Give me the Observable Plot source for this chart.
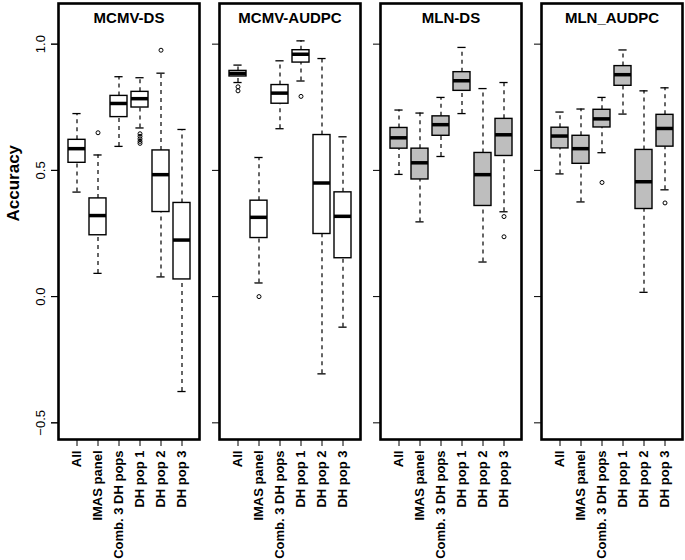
<!DOCTYPE html>
<html>
<head>
<meta charset="utf-8">
<script src="https://cdn.jsdelivr.net/npm/d3@7"></script>
<script src="https://cdn.jsdelivr.net/npm/@observablehq/plot@0.6"></script>
<style>
  html, body { margin: 0; padding: 0; background: #fff; }
  #chart svg { display: block; font-family: "Liberation Sans", Arial, Helvetica, sans-serif; }
</style>
</head>
<body>
<div id="chart"></div>
<script>
const traits = ["MCMV-DS", "MCMV-AUDPC", "MLN-DS", "MLN_AUDPC"];
const groups = ["All", "IMAS panel", "Comb. 3 DH pops", "DH pop 1", "DH pop 2", "DH pop 3"];
const yTicks = [-0.5, 0.0, 0.5, 1.0];

// per trait (rows) and group (columns)
const whiskerLow = [
  [0.414, 0.092, 0.595, 0.668, 0.078, -0.376],
  [0.848, 0.054, 0.665, 0.854, -0.306, -0.121],
  [0.484, 0.296, 0.555, 0.725, 0.137, 0.336],
  [0.486, 0.375, 0.570, 0.723, 0.017, 0.423]
];
const q1 = [
  [0.530, 0.243, 0.711, 0.749, 0.335, 0.068],
  [0.872, 0.232, 0.764, 0.927, 0.248, 0.152],
  [0.586, 0.464, 0.637, 0.815, 0.359, 0.557],
  [0.587, 0.526, 0.670, 0.835, 0.347, 0.594]
];
const median = [
  [0.586, 0.321, 0.765, 0.784, 0.483, 0.224],
  [0.884, 0.314, 0.806, 0.960, 0.450, 0.318],
  [0.629, 0.530, 0.681, 0.855, 0.483, 0.641],
  [0.636, 0.586, 0.704, 0.879, 0.455, 0.666]
];
const q3 = [
  [0.621, 0.389, 0.795, 0.811, 0.579, 0.371],
  [0.894, 0.380, 0.838, 0.976, 0.640, 0.413],
  [0.668, 0.586, 0.714, 0.889, 0.569, 0.704],
  [0.669, 0.637, 0.740, 0.913, 0.581, 0.720]
];
const whiskerHigh = [
  [0.725, 0.561, 0.871, 0.867, 0.885, 0.662],
  [0.917, 0.551, 0.934, 1.013, 0.943, 0.633],
  [0.739, 0.727, 0.789, 0.987, 0.824, 0.848],
  [0.731, 0.743, 0.789, 0.977, 0.815, 0.827]
];
const outliers = [
  ["MCMV-DS", "IMAS panel", 0.649],
  ["MCMV-DS", "DH pop 1", 0.645],
  ["MCMV-DS", "DH pop 1", 0.635],
  ["MCMV-DS", "DH pop 1", 0.625],
  ["MCMV-DS", "DH pop 1", 0.615],
  ["MCMV-DS", "DH pop 1", 0.607],
  ["MCMV-DS", "DH pop 2", 0.976],
  ["MCMV-AUDPC", "All", 0.831],
  ["MCMV-AUDPC", "All", 0.815],
  ["MCMV-AUDPC", "IMAS panel", 0.0],
  ["MCMV-AUDPC", "DH pop 1", 0.793],
  ["MLN-DS", "DH pop 3", 0.317],
  ["MLN-DS", "DH pop 3", 0.237],
  ["MLN_AUDPC", "Comb. 3 DH pops", 0.452],
  ["MLN_AUDPC", "DH pop 3", 0.371]
];

const rows = [];
traits.forEach((t, i) => groups.forEach((g, j) => rows.push({
  trait: t, group: g,
  lo: whiskerLow[i][j], q1: q1[i][j], med: median[i][j], q3: q3[i][j], hi: whiskerHigh[i][j]
})));
const outRows = outliers.map(([trait, group, value]) => ({trait, group, value}));
const boxFill = (d) => d.trait.startsWith("MLN") ? "#bebebe" : "#ffffff";

const chart = Plot.plot({
  width: 685,
  height: 560,
  marginLeft: 57,
  marginRight: 2,
  marginTop: 3,
  marginBottom: 121,
  style: {fontFamily: "'Liberation Sans', Arial, Helvetica, sans-serif", color: "#000", background: "#fff"},
  fx: {domain: traits, paddingInner: 0.122, paddingOuter: 0, axis: null, label: null},
  x: {type: "band", domain: groups, paddingInner: 0.2, paddingOuter: 0.34, label: null},
  y: {domain: [-0.566, 1.161], label: null},
  marks: [
    // whiskers
    Plot.ruleX(rows, {fx: "trait", x: "group", y1: "lo", y2: "q1", stroke: "#000", strokeWidth: 1.2, strokeDasharray: "4,4"}),
    Plot.ruleX(rows, {fx: "trait", x: "group", y1: "q3", y2: "hi", stroke: "#000", strokeWidth: 1.2, strokeDasharray: "4,4"}),
    Plot.tickY(rows, {fx: "trait", x: "group", y: "lo", stroke: "#000", strokeWidth: 1.3, inset: 4.4}),
    Plot.tickY(rows, {fx: "trait", x: "group", y: "hi", stroke: "#000", strokeWidth: 1.3, inset: 4.4}),
    // boxes
    Plot.barY(rows, {fx: "trait", x: "group", y1: "q1", y2: "q3", fill: boxFill, stroke: "#000", strokeWidth: 1.4}),
    Plot.tickY(rows, {fx: "trait", x: "group", y: "med", stroke: "#000", strokeWidth: 3.5}),
    // outliers
    Plot.dot(outRows, {fx: "trait", x: "group", y: "value", r: 2, stroke: "#000", fill: "none", strokeWidth: 1}),
    // frames
    Plot.frame({stroke: "#000", strokeWidth: 2.6}),
    // titles
    Plot.text(traits, {fx: (d) => d, text: (d) => d, frameAnchor: "top", lineAnchor: "middle", dy: 14.5, fontWeight: "bold", fontSize: 15, fill: "#000"}),
    // axes
    Plot.axisY({ticks: yTicks, tickSize: 7, text: null, label: null, facetAnchor: null}),
    Plot.axisY({ticks: yTicks, tickSize: 7, tickRotate: -90, tickPadding: 7, tickFormat: d3.format(".1f"), fontSize: 13, label: null}),
    Plot.axisX({tickSize: 7, tickRotate: -90, tickPadding: 4, fontSize: 13, fontWeight: "bold", label: null}),
    Plot.text(["Accuracy"], {fx: () => traits[0], text: (d) => d, frameAnchor: "left", dx: -45, rotate: -90, fontWeight: "bold", fontSize: 17, fill: "#000"})
  ]
});
document.getElementById("chart").appendChild(chart);
</script>
</body>
</html>
